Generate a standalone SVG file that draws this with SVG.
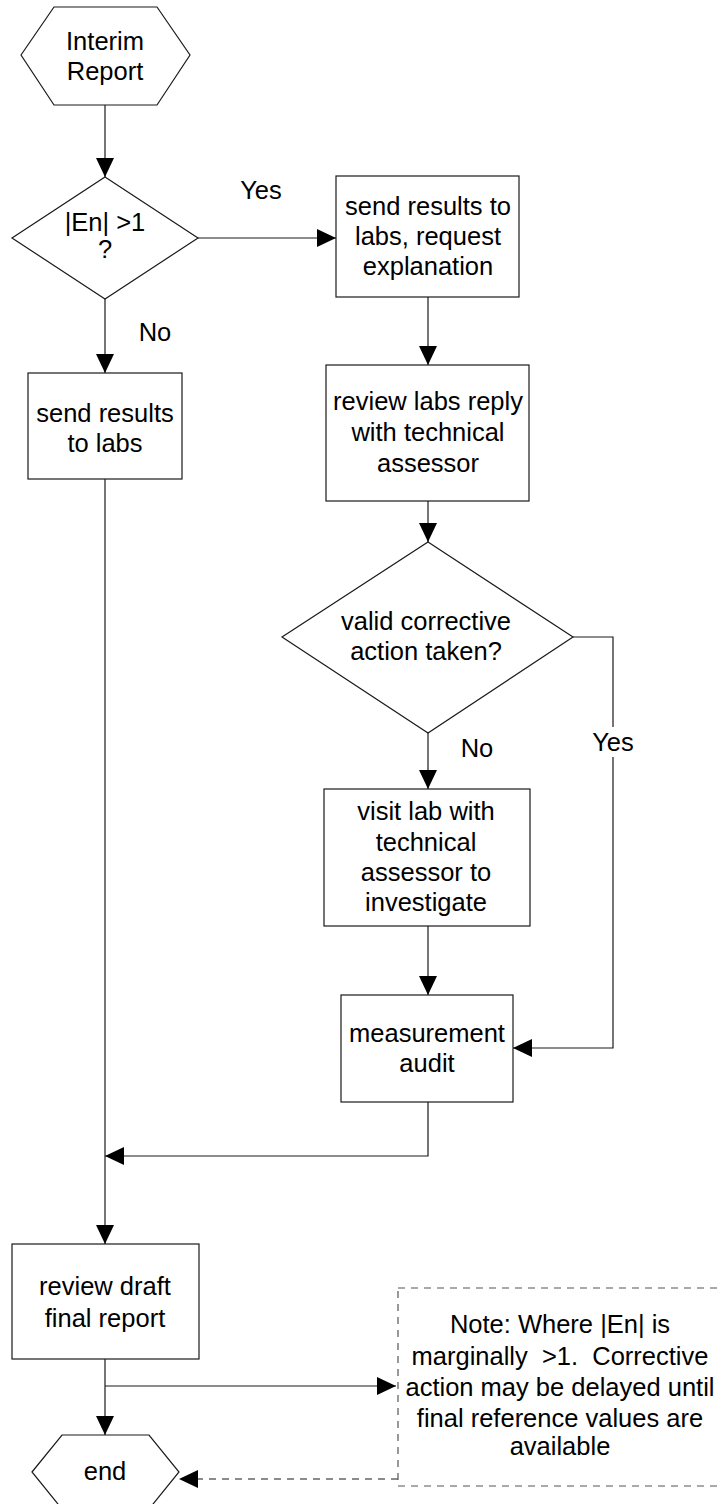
<svg xmlns="http://www.w3.org/2000/svg" width="720" height="1504" viewBox="0 0 720 1504">
  <style>
    .shape { fill: #ffffff; stroke: #1a1a1a; stroke-width: 1.2; }
    .note { fill: none; stroke: #555555; stroke-width: 1.2; stroke-dasharray: 7 6; }
    .link { fill: none; stroke: #1a1a1a; stroke-width: 1.2; }
    .dash { fill: none; stroke: #666666; stroke-width: 1.5; stroke-dasharray: 7 6; }
    text { font-family: "Liberation Sans", Arial, sans-serif; font-size: 25.5px; fill: #000000; text-anchor: middle; }
  </style>
  <defs>
    <marker id="arrow" viewBox="0 0 19 18" markerWidth="19" markerHeight="18" refX="19" refY="9" orient="auto" markerUnits="userSpaceOnUse">
      <path d="M0,0 L19,9 L0,18 Z" fill="#000000"/>
    </marker>
  </defs>

  <!-- connectors -->
  <g id="connectors">
    <path class="link" d="M105,105 V177" marker-end="url(#arrow)"/>
    <path class="link" d="M198,238 H336" marker-end="url(#arrow)"/>
    <path class="link" d="M105,299 V373" marker-end="url(#arrow)"/>
    <path class="link" d="M428,297 V365" marker-end="url(#arrow)"/>
    <path class="link" d="M428,501 V542" marker-end="url(#arrow)"/>
    <path class="link" d="M428,733 V789" marker-end="url(#arrow)"/>
    <path class="link" d="M428,926 V995" marker-end="url(#arrow)"/>
    <path class="link" d="M573,637 H613 V727"/>
    <path class="link" d="M613,757 V1048 H513" marker-end="url(#arrow)"/>
    <path class="link" d="M105,479 V1244" marker-end="url(#arrow)"/>
    <path class="link" d="M428,1102 V1156 H105" marker-end="url(#arrow)"/>
    <path class="link" d="M105,1359 V1435" marker-end="url(#arrow)"/>
    <path class="link" d="M105,1386 H396" marker-end="url(#arrow)"/>
    <path class="dash" d="M398,1479 H179" marker-end="url(#arrow)"/>
    <text x="261" y="199">Yes</text>
    <text x="155" y="341">No</text>
    <text x="477" y="757">No</text>
    <text x="613" y="751">Yes</text>
  </g>

  <!-- start terminator -->
  <g id="start">
    <polygon class="shape" points="21,55 54,7 157,7 190,55 157,105 54,105"/>
    <text x="105" y="50">Interim</text>
    <text x="105" y="80">Report</text>
  </g>

  <!-- first decision -->
  <g id="decision-en">
    <polygon class="shape" points="105,177 198,238 105,299 12,238"/>
    <text x="105" y="231">|En| &gt;1</text>
    <text x="105" y="258">?</text>
  </g>

  <g id="send-request">
    <rect class="shape" x="336" y="176" width="183" height="121"/>
    <text x="428" y="215">send results to</text>
    <text x="428" y="245">labs, request</text>
    <text x="428" y="275">explanation</text>
  </g>

  <g id="send-results">
    <rect class="shape" x="28" y="373" width="154" height="106"/>
    <text x="105" y="422">send results</text>
    <text x="105" y="452">to labs</text>
  </g>

  <g id="review-reply">
    <rect class="shape" x="326" y="365" width="203" height="136"/>
    <text x="428" y="410">review labs reply</text>
    <text x="428" y="441">with technical</text>
    <text x="428" y="472">assessor</text>
  </g>

  <g id="decision-corrective">
    <polygon class="shape" points="428,542 573,637 428,733 282,637"/>
    <text x="426" y="630">valid corrective</text>
    <text x="426" y="660">action taken?</text>
  </g>

  <g id="visit-lab">
    <rect class="shape" x="324" y="789" width="206" height="137"/>
    <text x="426" y="820">visit lab with</text>
    <text x="426" y="851">technical</text>
    <text x="426" y="881">assessor to</text>
    <text x="426" y="911">investigate</text>
  </g>

  <g id="measurement-audit">
    <rect class="shape" x="341" y="995" width="172" height="107"/>
    <text x="427" y="1042">measurement</text>
    <text x="427" y="1072">audit</text>
  </g>

  <g id="review-draft">
    <rect class="shape" x="12" y="1244" width="187" height="115"/>
    <text x="105" y="1295">review draft</text>
    <text x="105" y="1327">final report</text>
  </g>

  <g id="note">
    <rect class="note" x="398" y="1288" width="340" height="198"/>
    <text x="560" y="1333">Note: Where |En| is</text>
    <text x="560" y="1365" style="white-space: pre">marginally  &gt;1.  Corrective</text>
    <text x="560" y="1396">action may be delayed until</text>
    <text x="560" y="1427">final reference values are</text>
    <text x="560" y="1455">available</text>
  </g>

  <!-- end terminator -->
  <g id="end">
    <polygon class="shape" points="32,1472 62,1435 149,1435 179,1472 149,1509 62,1509"/>
    <text x="105" y="1480">end</text>
  </g>
</svg>
